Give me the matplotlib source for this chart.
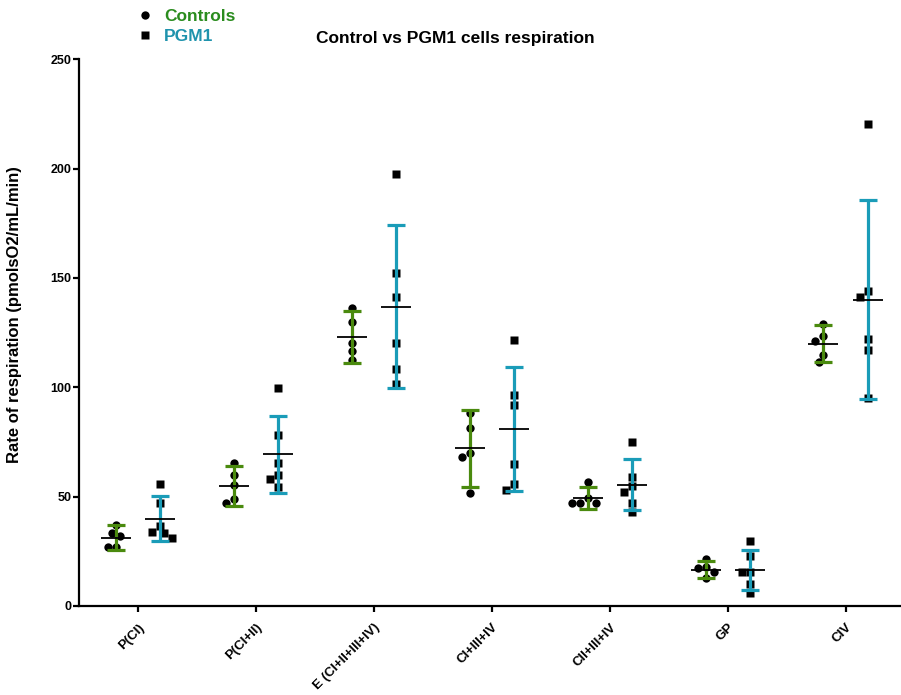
import matplotlib
matplotlib.use("Agg")
import matplotlib.pyplot as plt
from matplotlib.lines import Line2D
import numpy as np

plt.rcParams['font.family'] = ['Liberation Sans', 'DejaVu Sans']

categories = ["P(CI)", "P(CI+II)", "E (CI+II+III+IV)", "CI+III+IV", "CII+III+IV", "GP", "CIV"]

controls_points = [
    [37.0, 33.6, 32.1, 26.8, 26.8],
    [65.2, 59.8, 55.2, 48.8, 47.3],
    [136.3, 129.7, 120.3, 116.5, 112.4],
    [88.4, 81.5, 69.8, 68.1, 51.9],
    [56.7, 49.3, 47.3, 47.3, 47.0],
    [21.4, 17.7, 17.3, 15.6, 13.0],
    [129.1, 123.3, 121.0, 115.0, 111.6],
]
pgm1_points = [
    [55.7, 47.3, 36.6, 33.9, 33.2, 30.9],
    [99.5, 78.2, 65.2, 59.8, 58.3, 54.6],
    [197.5, 152.2, 141.3, 120.3, 108.6, 101.3],
    [121.5, 96.6, 91.8, 64.9, 55.7, 53.1],
    [75.0, 59.0, 54.9, 52.3, 47.3, 43.2],
    [29.8, 23.0, 15.6, 15.4, 10.0, 5.8],
    [220.2, 143.9, 141.3, 122.1, 117.0, 95.2],
]
controls_mean = [31.3, 54.9, 123.0, 72.1, 49.4, 16.6, 120.0]
controls_sd = [5.7, 9.0, 12.0, 17.6, 5.2, 3.8, 8.4]
pgm1_mean = [40.0, 69.3, 136.9, 80.9, 55.4, 16.4, 140.1]
pgm1_sd = [10.3, 17.6, 37.4, 28.4, 11.6, 9.2, 45.5]

green = "#4a8a0e"
blue = "#1a9cb8"
legend_green = "#2a8c1e"
legend_blue = "#1f93ad"

W, H = 901, 695
fig = plt.figure(figsize=(W / 100, H / 100), dpi=100)
ax_left, ax_right = 79.3 / W, 1.0
ax_bottom, ax_top = (H - 606) / H, (H - 59.3) / H
ax = fig.add_axes([ax_left, ax_bottom, ax_right - ax_left, ax_top - ax_bottom])

xlim = (-0.5, 6.47)
ylim = (0, 250)
ax.set_xlim(*xlim)
ax.set_ylim(*ylim)

ax_w_px = (ax_right - ax_left) * W
ax_h_px = (ax_top - ax_bottom) * H
px_per_x = ax_w_px / (xlim[1] - xlim[0])
px_per_y = ax_h_px / (ylim[1] - ylim[0])

def swarm(values, diam=8.0):
    # deterministic non-overlapping horizontal offsets (in px)
    placed = []
    offs = []
    for v in values:
        y = v * px_per_y
        cands = [0]
        for k in range(1, 8):
            cands += [-k * diam * 0.5, k * diam * 0.5]
        chosen = 0
        for c in cands:
            ok = True
            for (px, py) in placed:
                if (px - c) ** 2 + (py - y) ** 2 < diam ** 2:
                    ok = False
                    break
            if ok:
                chosen = c
                break
        placed.append((chosen, y))
        offs.append(chosen)
    return np.array(offs) / px_per_x

offset = 22.2 / px_per_x
x = np.arange(len(categories))

for i in range(len(categories)):
    cx = x[i] - offset
    px = x[i] + offset
    cv = controls_points[i]
    pv = pgm1_points[i]
    ax.plot(cx + swarm(cv), cv, 'o', color='black', ms=6.0, mec='none', zorder=2, clip_on=False)
    ax.plot(px + swarm(pv), pv, 's', color='black', ms=5.7, mec='none', zorder=2, clip_on=False)

ax.errorbar(x - offset, controls_mean, yerr=controls_sd, fmt='none', ecolor=green,
            elinewidth=2.3, capsize=6.5, capthick=2.3, zorder=3)
ax.errorbar(x + offset, pgm1_mean, yerr=pgm1_sd, fmt='none', ecolor=blue,
            elinewidth=2.3, capsize=6.5, capthick=2.3, zorder=3)
ax.plot(x - offset, controls_mean, '_', color='black', ms=22, mew=1.3, zorder=4)
ax.plot(x + offset, pgm1_mean, '_', color='black', ms=22, mew=1.3, zorder=4)

for s in ['top', 'right']:
    ax.spines[s].set_visible(False)
for s in ['left', 'bottom']:
    ax.spines[s].set_linewidth(1.6)

ax.set_yticks([0, 50, 100, 150, 200, 250])
ax.set_xticks(x)
ax.set_xticklabels(categories, rotation=45, ha='right', va='top', rotation_mode='anchor',
                   fontsize=9.5, fontweight='bold')
ax.tick_params(axis='both', width=1.6, length=4, direction='out')
ax.tick_params(axis='x', pad=7)
ax.tick_params(axis='y', labelsize=9, pad=1.5)
for t in ax.get_yticklabels():
    t.set_fontweight('bold')

ax.set_ylabel("Rate of respiration (pmolsO2/mL/min)", fontsize=12, fontweight='bold')
ax.yaxis.set_label_coords((22 - 79.3) / ax_w_px, (606 - 315) / ax_h_px)

fig.text(455 / W, 1 - 38 / H, "Control vs PGM1 cells respiration", ha='center', va='center',
         fontsize=12.5, fontweight='bold')

handles = [Line2D([], [], marker='o', color='black', ls='none', ms=6, mec='none'),
           Line2D([], [], marker='s', color='black', ls='none', ms=6, mec='none')]
leg = ax.legend(handles, ["Controls", "PGM1"], loc='upper left',
                bbox_to_anchor=(124 / W, 1 + 3 / H), bbox_transform=fig.transFigure,
                frameon=False, prop={'weight': 'bold', 'size': 12.5}, labelspacing=0.25,
                handletextpad=0.6, handlelength=1.0, borderpad=0.2)
for t, c in zip(leg.get_texts(), [legend_green, legend_blue]):
    t.set_color(c)

fig.savefig("out.png", dpi=100)
